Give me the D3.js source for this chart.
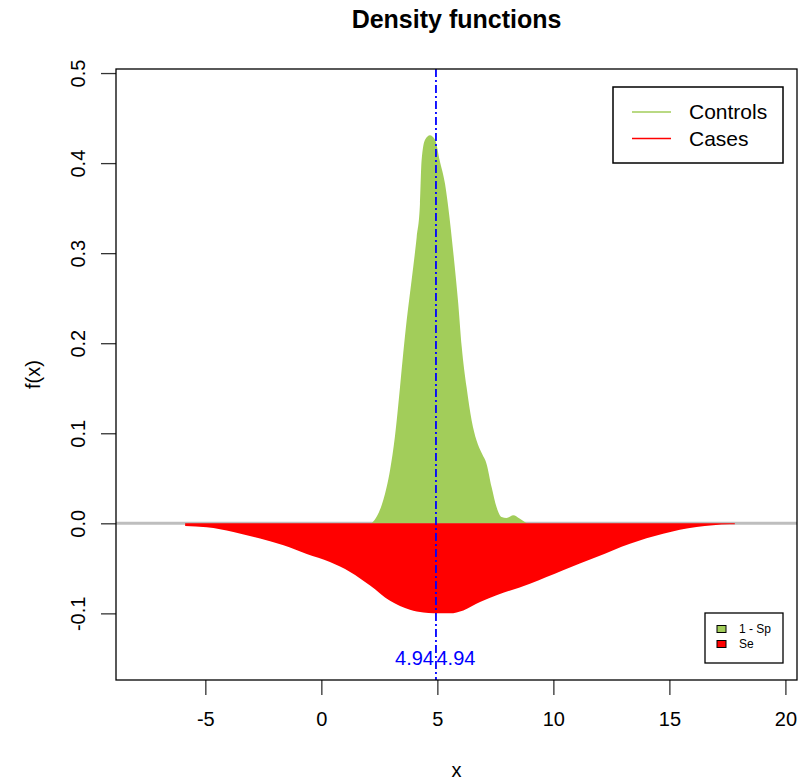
<!DOCTYPE html>
<html>
<head>
<meta charset="utf-8">
<script src="https://cdn.jsdelivr.net/npm/d3@7"></script>
<style>
  body { margin: 0; background: #fff; }
  svg { font-family: "Liberation Sans", Arial, sans-serif; display: block; }
  .axis text { font-size: 20px; fill: #000; }
  .axis line { stroke: #333; stroke-width: 1.3; }
</style>
</head>
<body>
<div id="graphic"></div>
<script>
// controls density (drawn above zero)
var controlsX = [2.17, 2.4, 2.67, 2.96, 3.17, 3.39, 3.53, 3.68, 3.89, 4.11, 4.25, 4.32, 4.47, 4.68, 4.9, 5.1, 5.33, 5.47, 5.69, 5.9, 6.05, 6.26, 6.48, 6.69, 6.91, 7.12, 7.34, 7.55, 7.77, 7.98, 8.27, 8.56, 8.85];
var controlsY = [0, 0.008, 0.026, 0.059, 0.096, 0.151, 0.189, 0.226, 0.270, 0.318, 0.355, 0.403, 0.426, 0.431, 0.426, 0.403, 0.377, 0.351, 0.300, 0.244, 0.196, 0.151, 0.114, 0.092, 0.078, 0.066, 0.040, 0.018, 0.007, 0.006, 0.009, 0.005, 0];

// cases density (drawn below zero)
var casesX = [-5.87, -4.94, -3.79, -2.64, -1.63, -0.63, 0.37, 1.24, 2.10, 2.96, 3.82, 4.4, 4.83, 5.54, 6.12, 6.84, 7.55, 8.99, 10.42, 11.86, 13.3, 14.73, 16.17, 17.6, 17.82];
var casesY = [0.003, 0.0045, 0.0096, 0.017, 0.0244, 0.034, 0.043, 0.054, 0.069, 0.086, 0.096, 0.099, 0.100, 0.100, 0.0967, 0.0875, 0.080, 0.067, 0.052, 0.0374, 0.0226, 0.0115, 0.0041, 0.0011, 0.001];

var cutoff = 4.94;
var xTicks = [-5, 0, 5, 10, 15, 20];
var yTicks = [-0.1, 0, 0.1, 0.2, 0.3, 0.4, 0.5];
var xLim = [-8.85, 20.5];
var yLim = [-0.174, 0.5045];
var legendLabels = ["Controls", "Cases"];
var areaLabels = ["1 - Sp", "Se"];
var colours = ["#a2cd5a", "#ff0000"];

var width = 798, height = 781;
var margin = {top: 69, right: 1, bottom: 101, left: 116};

// R prints a plain hyphen as minus sign
var hyphen = f => (d => f(d).replace("\u2212", "-"));

var svg = d3.select("#graphic").append("svg")
  .attr("width", width)
  .attr("height", height);

var x = d3.scaleLinear().domain(xLim).range([margin.left, width - margin.right]);
var y = d3.scaleLinear().domain(yLim).range([height - margin.bottom, margin.top]);

var controls = d3.zip(controlsX, controlsY);
var cases = d3.zip(casesX, casesY);

// zero line
svg.append("line")
  .attr("x1", x.range()[0]).attr("x2", x.range()[1])
  .attr("y1", y(0)).attr("y2", y(0))
  .attr("stroke", "#bebebe")
  .attr("stroke-width", 3);

var areaUp = d3.area()
  .x(d => x(d[0]))
  .y0(y(0))
  .y1(d => y(d[1]))
  .curve(d3.curveMonotoneX);

var areaDown = d3.area()
  .x(d => x(d[0]))
  .y0(y(0))
  .y1(d => y(-d[1]))
  .curve(d3.curveMonotoneX);

svg.append("path").datum(controls)
  .attr("d", areaUp)
  .attr("fill", colours[0]);

svg.append("path").datum(cases)
  .attr("d", areaDown)
  .attr("fill", colours[1]);

// cutoff line
svg.append("line")
  .attr("x1", x(cutoff)).attr("x2", x(cutoff))
  .attr("y1", y.range()[1]).attr("y2", y.range()[0])
  .attr("stroke", "#0000ff")
  .attr("stroke-width", 1.8)
  .attr("stroke-dasharray", "8,3,2,3");

svg.append("text").text(cutoff.toFixed(2))
  .attr("x", x(cutoff) - 2).attr("y", y(-0.15))
  .attr("dy", "0.35em")
  .attr("text-anchor", "end")
  .attr("fill", "#0000ff")
  .style("font-size", "20px");

svg.append("text").text(cutoff.toFixed(2))
  .attr("x", x(cutoff) + 0.5).attr("y", y(-0.15))
  .attr("dy", "0.35em")
  .attr("text-anchor", "start")
  .attr("fill", "#0000ff")
  .style("font-size", "20px");

// axes
var xAxis = svg.append("g")
  .attr("class", "axis")
  .attr("transform", "translate(0," + y.range()[0] + ")")
  .call(d3.axisBottom(x).tickValues(xTicks).tickSize(15).tickPadding(17).tickFormat(hyphen(d3.format("d"))));
xAxis.select(".domain").remove();

var yAxis = svg.append("g")
  .attr("class", "axis")
  .attr("transform", "translate(" + x.range()[0] + ",0)")
  .call(d3.axisLeft(y).tickValues(yTicks).tickSize(15).tickFormat(hyphen(d3.format(".1f"))));
yAxis.select(".domain").remove();
yAxis.selectAll("text")
  .attr("x", null).attr("dy", null)
  .attr("text-anchor", "middle")
  .attr("transform", "translate(-31,0) rotate(-90)");

// box
svg.append("rect")
  .attr("x", x.range()[0]).attr("y", y.range()[1])
  .attr("width", x.range()[1] - x.range()[0])
  .attr("height", y.range()[0] - y.range()[1])
  .attr("fill", "none")
  .attr("stroke", "#000")
  .attr("stroke-width", 1.3);

// titles
svg.append("text").text("Density functions")
  .attr("x", (x.range()[0] + x.range()[1]) / 2).attr("y", 28)
  .attr("text-anchor", "middle")
  .style("font-size", "25px").style("font-weight", "bold");

svg.append("text").text("x")
  .attr("x", (x.range()[0] + x.range()[1]) / 2).attr("y", 777)
  .attr("text-anchor", "middle")
  .style("font-size", "20px");

svg.append("text").text("f(x)")
  .attr("transform", "translate(40," + (y.range()[0] + y.range()[1]) / 2 + ") rotate(-90)")
  .attr("text-anchor", "middle")
  .style("font-size", "20px");

// legend top right
var legend = svg.append("g").attr("transform", "translate(613,87)");
legend.append("rect")
  .attr("width", 170).attr("height", 76)
  .attr("fill", "#fff").attr("stroke", "#000").attr("stroke-width", 1.5);

var legItem = legend.selectAll("g.item")
  .data(d3.zip(legendLabels, colours))
  .join("g")
  .attr("class", "item")
  .attr("transform", (d, i) => "translate(0," + (25 + i * 26.5) + ")");

legItem.append("line")
  .attr("x1", 19).attr("x2", 58)
  .attr("stroke", d => d[1]).attr("stroke-width", 1.5);

legItem.append("text").text(d => d[0])
  .attr("x", 76).attr("dy", "0.35em")
  .style("font-size", "21px");

// legend bottom right
var legend2 = svg.append("g").attr("transform", "translate(705,613)");
legend2.append("rect")
  .attr("width", 78).attr("height", 50)
  .attr("fill", "#fff").attr("stroke", "#000").attr("stroke-width", 1.3);

var legItem2 = legend2.selectAll("g.item")
  .data(d3.zip(areaLabels, colours))
  .join("g")
  .attr("class", "item")
  .attr("transform", (d, i) => "translate(0," + (16 + i * 15) + ")");

legItem2.append("rect")
  .attr("x", 12).attr("y", -3.5)
  .attr("width", 9).attr("height", 7)
  .attr("fill", d => d[1]).attr("stroke", "#000").attr("stroke-width", 1);

legItem2.append("text").text(d => d[0])
  .attr("x", 34).attr("dy", "0.35em")
  .style("font-size", "12px");
</script>
</body>
</html>
